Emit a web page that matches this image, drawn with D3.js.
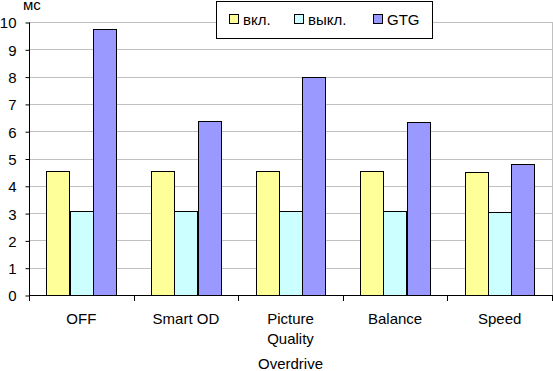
<!DOCTYPE html>
<html>
<head>
<meta charset="utf-8">
<script src="https://cdn.jsdelivr.net/npm/d3@7"></script>
<style>
  body { margin: 0; background: #fff; }
  text { font-family: "Liberation Sans", Arial, sans-serif; fill: #000; }
</style>
</head>
<body>
<svg id="chart" width="553" height="371"></svg>
<script>
const categories = ["OFF", "Smart OD", "Picture Quality", "Balance", "Speed"]
const seriesNames = ["вкл.", "выкл.", "GTG"]
const vkl = [4.55, 4.55, 4.55, 4.53, 4.49]
const vykl = [3.07, 3.07, 3.07, 3.08, 3.04]
const gtg = [9.74, 6.37, 7.98, 6.33, 4.79]
const yTicks = [0, 1, 2, 3, 4, 5, 6, 7, 8, 9, 10]
const colors = ["#ffff99", "#ccffff", "#9999ff"]

const series = [vkl, vykl, gtg]

let plotLeft = 29, plotRight = 552, plotTop = 22, plotBottom = 295

const svg = d3.select("#chart")

let x = d3.scaleBand()
  .domain(categories)
  .range([plotLeft, plotRight])
  .paddingInner(0).paddingOuter(0)

let xs = d3.scaleBand()
  .domain(seriesNames)
  .range([0, x.bandwidth()])
  .paddingInner(0).paddingOuter(0.75)

let y = d3.scaleLinear()
  .domain([0, 10])
  .range([plotBottom, plotTop])

// gridlines
svg.append("g")
  .selectAll("line")
  .data(yTicks.filter(d => d > 0))
  .enter().append("line")
  .attr("x1", plotLeft).attr("x2", plotRight)
  .attr("y1", d => Math.round(y(d)) + 0.5)
  .attr("y2", d => Math.round(y(d)) + 0.5)
  .attr("stroke", "#c0c0c0")

// right border of plot area
svg.append("line")
  .attr("x1", plotRight + 0.5).attr("x2", plotRight + 0.5)
  .attr("y1", plotTop).attr("y2", plotBottom)
  .attr("stroke", "#c0c0c0")

// bars
categories.forEach((c, i) => {
  svg.append("g")
    .selectAll("rect")
    .data(series.map((s, j) => ({ name: seriesNames[j], v: s[i], color: colors[j] })))
    .enter().append("rect")
    .attr("x", d => Math.round(x(c) + xs(d.name)) + 0.5)
    .attr("y", d => Math.round(y(d.v)) + 0.5)
    .attr("width", Math.round(xs.bandwidth()))
    .attr("height", d => Math.round(y(0)) - Math.round(y(d.v)))
    .attr("fill", d => d.color)
    .attr("stroke", "#000")
})

// y axis
let yAxis = d3.axisLeft(y)
  .tickValues(yTicks)
  .tickSize(4)
  .tickPadding(9)
  .tickFormat(d3.format("d"))

let gy = svg.append("g")
  .attr("transform", "translate(" + (plotLeft + 0.5) + ",0.5)")
  .call(yAxis)
gy.selectAll("text").style("font-size", "15px").attr("dy", "0.36em")
gy.select(".domain").attr("d", "M0," + plotTop + "V" + plotBottom)

// x axis
let xAxis = d3.axisBottom(x)
  .tickSize(0)
  .tickFormat("")

let gx = svg.append("g")
  .attr("transform", "translate(0," + (plotBottom + 0.5) + ")")
  .call(xAxis)
gx.select(".domain").attr("d", "M" + plotLeft + ",0H" + (plotRight + 1))

// category separator ticks
svg.append("g")
  .selectAll("line")
  .data(categories.map(c => x(c)).concat([x.range()[1]]))
  .enter().append("line")
  .attr("x1", d => Math.round(d) + 0.5).attr("x2", d => Math.round(d) + 0.5)
  .attr("y1", plotBottom).attr("y2", plotBottom + 6)
  .attr("stroke", "#000")

// category labels
let labels = {
  "Picture Quality": ["Picture", "Quality"]
}
svg.append("g")
  .selectAll("text")
  .data(categories)
  .enter().append("text")
  .attr("text-anchor", "middle")
  .style("font-size", "15px")
  .attr("x", d => x(d) + x.bandwidth() / 2)
  .attr("y", 324)
  .each(function(d) {
    let lines = labels[d] || [d]
    d3.select(this).selectAll("tspan")
      .data(lines)
      .enter().append("tspan")
      .attr("x", x(d) + x.bandwidth() / 2)
      .attr("dy", (l, k) => k == 0 ? 0 : 20)
      .text(l => l)
  })

// axis titles
svg.append("text")
  .attr("x", 23).attr("y", 10)
  .style("font-size", "15px")
  .text("мс")

svg.append("text")
  .attr("x", (plotLeft + plotRight) / 2).attr("y", 369)
  .attr("text-anchor", "middle")
  .style("font-size", "15px")
  .text("Overdrive")

// legend
let legend = svg.append("g")
legend.append("rect")
  .attr("x", 216.5).attr("y", 1.5)
  .attr("width", 216).attr("height", 37)
  .attr("fill", "#fff").attr("stroke", "#000")

let legendX = [229, 294, 373]
let item = legend.selectAll("g.item")
  .data(seriesNames)
  .enter().append("g")
  .attr("class", "item")
  .attr("transform", (d, i) => "translate(" + legendX[i] + ",0)")

item.append("rect")
  .attr("x", 0.5).attr("y", 14.5)
  .attr("width", 9).attr("height", 9)
  .attr("fill", (d, i) => colors[i])
  .attr("stroke", "#000")

item.append("text")
  .attr("x", 14).attr("y", 25)
  .style("font-size", "15px")
  .text(d => d)
</script>
</body>
</html>
